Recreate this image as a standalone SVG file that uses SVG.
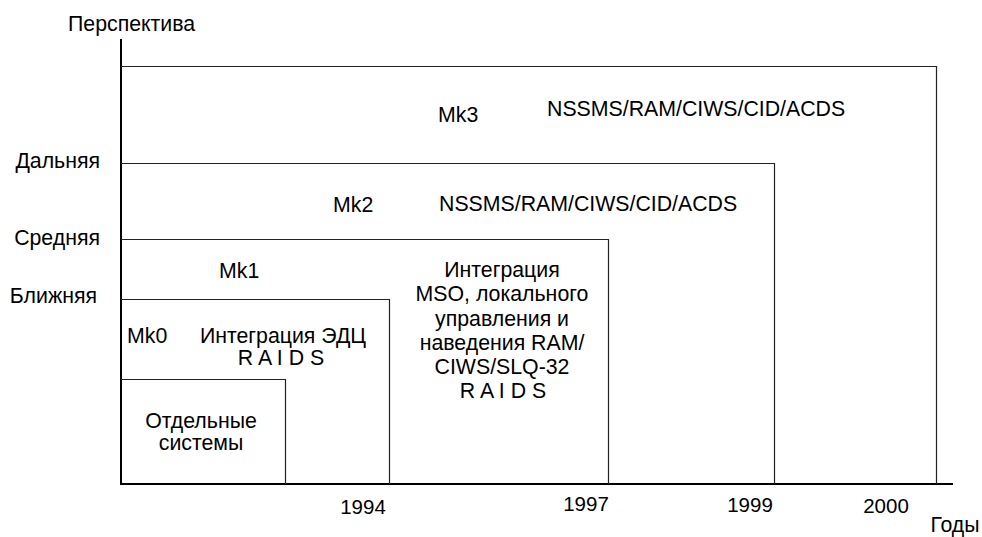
<svg xmlns="http://www.w3.org/2000/svg" width="982" height="537" viewBox="0 0 982 537">
<style>
text{font-family:"Liberation Sans",Arial,sans-serif;font-size:21.3px;fill:#000}
.c{text-anchor:middle}
.r{text-anchor:end}
.n{font-size:20.5px}
.box{fill:none;stroke:#222;stroke-width:1.2}
.axis{fill:none;stroke:#000;stroke-width:2}
</style>
<rect width="982" height="537" fill="#fff"/>
<g id="connectors">
<path class="axis" d="M121,39 V485"/>
<path class="axis" d="M120,484 H953"/>
</g>
<g id="mk3">
<path class="box" d="M121,66.5 H936.5 V484"/>
<text x="438" y="122">Mk3</text>
<text x="547" y="116">NSSMS/RAM/CIWS/CID/ACDS</text>
</g>
<g id="mk2">
<path class="box" d="M121,163.5 H774.5 V484"/>
<text x="333" y="212">Mk2</text>
<text x="439" y="211">NSSMS/RAM/CIWS/CID/ACDS</text>
</g>
<g id="mk1">
<path class="box" d="M121,239.5 H608.5 V484"/>
<text x="219" y="278">Mk1</text>
<text class="c" x="502" y="277">Интеграция</text>
<text class="c" x="502" y="301">MSO, локального</text>
<text class="c" x="502" y="326">управления и</text>
<text class="c" x="502" y="350">наведения RAM/</text>
<text class="c" x="502" y="374">CIWS/SLQ-32</text>
<text class="c" x="503" y="398">R A I D S</text>
</g>
<g id="mk0">
<path class="box" d="M121,299.5 H389.5 V484"/>
<text x="127" y="343">Mk0</text>
<text class="c" x="283" y="343">Интеграция ЭДЦ</text>
<text class="c" x="281" y="365">R A I D S</text>
</g>
<g id="separate">
<path class="box" d="M121,379.5 H285.5 V484"/>
<text class="c" x="201" y="428">Отдельные</text>
<text class="c" x="201" y="450">системы</text>
</g>
<g id="labels">
<text x="68" y="31">Перспектива</text>
<text class="r" x="100" y="168">Дальняя</text>
<text class="r" x="100" y="245">Средняя</text>
<text class="r" x="97" y="303">Ближняя</text>
<text class="c n" x="363" y="514">1994</text>
<text class="c n" x="586" y="511">1997</text>
<text class="c n" x="750" y="512">1999</text>
<text class="c n" x="886" y="513">2000</text>
<text class="c" x="955" y="532">Годы</text>
</g>
</svg>
